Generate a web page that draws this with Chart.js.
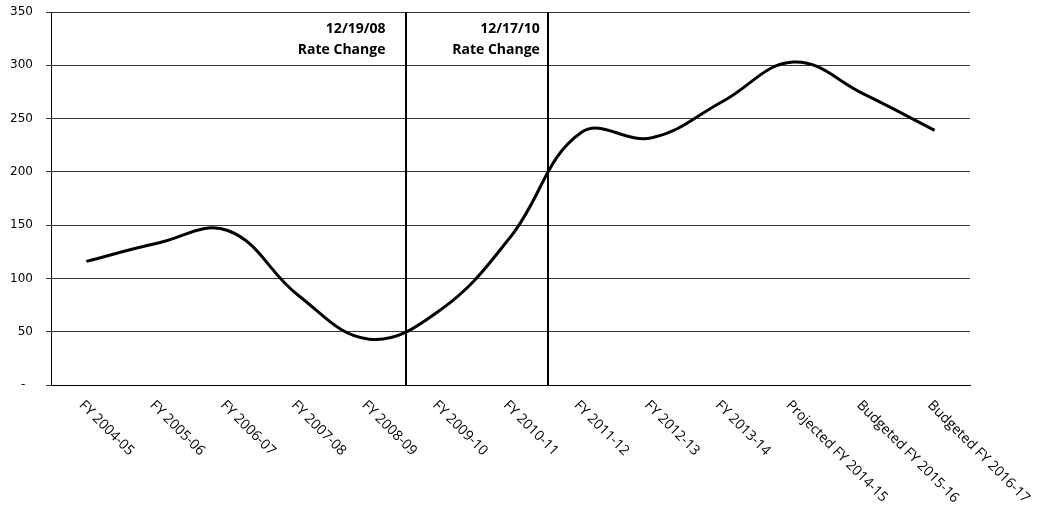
<!DOCTYPE html>
<html>
<head>
<meta charset="utf-8">
<script src="https://cdn.jsdelivr.net/npm/chart.js@4"></script>
<style>
  html, body { margin: 0; padding: 0; background: #fff; }
  #wrap { width: 1037px; height: 510px; }
</style>
</head>
<body>
<div id="wrap"><canvas id="line-chart"></canvas></div>
<script>
const categories = [
  "FY 2004-05",
  "FY 2005-06",
  "FY 2006-07",
  "FY 2007-08",
  "FY 2008-09",
  "FY 2009-10",
  "FY 2010-11",
  "FY 2011-12",
  "FY 2012-13",
  "FY 2013-14",
  "Projected FY 2014-15",
  "Budgeted FY 2015-16",
  "Budgeted FY 2016-17",
];
const values = [116, 133, 145, 84, 43, 70, 139, 237, 232, 266, 303, 273, 239];
const yTicks = [0, 50, 100, 150, 200, 250, 300, 350];
// rate changes sit between category "after" and the next one
const rateChangeAfter = [4, 6];
const rateChangeDates = ["12/19/08", "12/17/10"];
const rateChangeText = "Rate Change";

const extras = {
  id: "extras",
  beforeDatasetsDraw(chart) {
    const { ctx, chartArea, scales } = chart;
    const x = scales.x;
    ctx.save();
    ctx.strokeStyle = "#000";
    ctx.lineWidth = 2;
    rateChangeAfter.forEach((i) => {
      const px = Math.round((x.getPixelForValue(i) + x.getPixelForValue(i + 1)) / 2) + 2;
      ctx.beginPath();
      ctx.moveTo(px, chartArea.top);
      ctx.lineTo(px, chartArea.bottom);
      ctx.stroke();
    });
    ctx.restore();
  },
  afterDraw(chart) {
    const { ctx, chartArea, scales } = chart;
    const x = scales.x;
    const gaps = [21, 8];
    ctx.save();
    ctx.fillStyle = "#000";
    ctx.font = "bold 14px 'Open Sans'";
    ctx.textAlign = "right";
    ctx.textBaseline = "middle";
    rateChangeAfter.forEach((i, k) => {
      const px = (x.getPixelForValue(i) + x.getPixelForValue(i + 1)) / 2 + 2;
      ctx.fillText(rateChangeDates[k], px - gaps[k], 29);
      ctx.fillText(rateChangeText, px - gaps[k], 50);
    });

    // slanted category labels, reading down to the right
    ctx.font = "14px 'Open Sans'";
    ctx.textAlign = "left";
    ctx.textBaseline = "top";
    categories.forEach((c, i) => {
      ctx.save();
      ctx.translate(x.getPixelForValue(i), chartArea.bottom + 13);
      ctx.rotate(Math.PI / 4);
      ctx.fillText(c, 0, 0);
      ctx.restore();
    });
    ctx.restore();
  },
};

new Chart(document.getElementById("line-chart"), {
  type: "line",
  data: {
    labels: categories,
    datasets: [
      {
        data: values,
        borderColor: "#000",
        borderWidth: 3,
        pointRadius: 0,
        tension: 0.4,
        fill: false,
      },
    ],
  },
  options: {
    responsive: true,
    maintainAspectRatio: false,
    animation: false,
    layout: { padding: { top: 12, right: 67, left: 0, bottom: 0 } },
    plugins: {
      legend: { display: false },
      tooltip: { enabled: false },
    },
    scales: {
      x: {
        offset: true,
        grid: { display: false },
        border: { color: "#000", width: 1 },
        ticks: { display: false },
        afterFit(scale) {
          scale.height = 125;
        },
      },
      y: {
        min: 0,
        max: 350,
        afterBuildTicks(scale) {
          scale.ticks = yTicks.map((v) => ({ value: v }));
        },
        grid: { color: "#333", lineWidth: 1, tickLength: 5 },
        border: { color: "#000", width: 1 },
        ticks: {
          padding: 13,
          color: "#000",
          font: { family: "'DejaVu Sans'", size: 12 },
          callback: (v) => (v === 0 ? "-  " : v),
        },
        afterFit(scale) {
          scale.width = 51;
          scale.paddingTop = 0;
          scale.paddingBottom = 0;
        },
      },
    },
  },
  plugins: [extras],
});
</script>
</body>
</html>
